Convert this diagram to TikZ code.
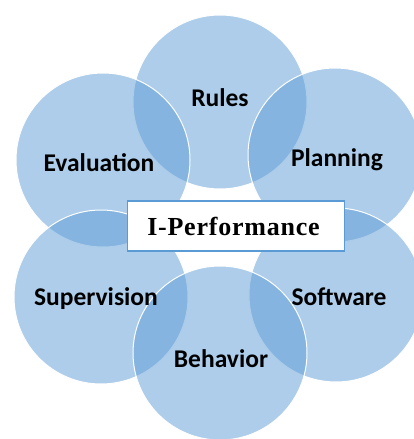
\documentclass[tikz,border=0pt]{standalone}
\usepackage{fontspec}
\setmainfont{Carlito}
\newfontfamily\hubfont[LetterSpace=3]{Liberation Serif}
\usepackage{tikz}
\usetikzlibrary{positioning}
\definecolor{petalblue}{RGB}{91,155,213}
\colorlet{hubline}{petalblue}

\tikzset{
  petal/.style={circle, minimum size=174pt, inner sep=0pt, fill=petalblue,
    fill opacity=0.5, draw=white, draw opacity=1, line width=1pt},
  tag/.style={font=\fontsize{25.5}{30}\selectfont\bfseries, text=black, inner sep=0pt},
  hub/.style={draw=hubline, line width=1.3pt, fill=white, minimum width=217pt,
    minimum height=50pt, font=\hubfont\fontsize{26}{30}\selectfont\bfseries}
}

\begin{document}
\begin{tikzpicture}[x=1pt, y=-1pt] % pixel-like coordinates
\useasboundingbox (0,0) rectangle (414,439);
% six petals round the hub
\node[petal] (rules)       at (220,102) {};
\node[petal] (planning)    at (335,155) {};
\node[petal] (evaluation)  at (103,160) {};
\node[petal] (supervision) at (101,297) {};
\node[petal] (software)    at (336,295) {};
\node[petal] (behavior)    at (220,353) {};
% petal labels
\node[tag] (rules-t)       at ([shift={(0,-4)}]rules)      {Rules};
\node[tag] (planning-t)    at ([shift={(2,5)}]planning)    {Planning};
\node[tag] (evaluation-t)  at ([shift={(-4,3)}]evaluation) {Evaluation};
\node[tag] (supervision-t) at ([shift={(-5,2)}]supervision) {Supervision};
\node[tag] (software-t)    at ([shift={(3,2)}]software)    {Software};
\node[tag] (behavior-t)    at ([shift={(1,6)}]behavior)    {Behavior};
% centre box
\node[hub] (perf) at (236,226) {\hspace*{-5pt}I-Performance};
\end{tikzpicture}
\end{document}
